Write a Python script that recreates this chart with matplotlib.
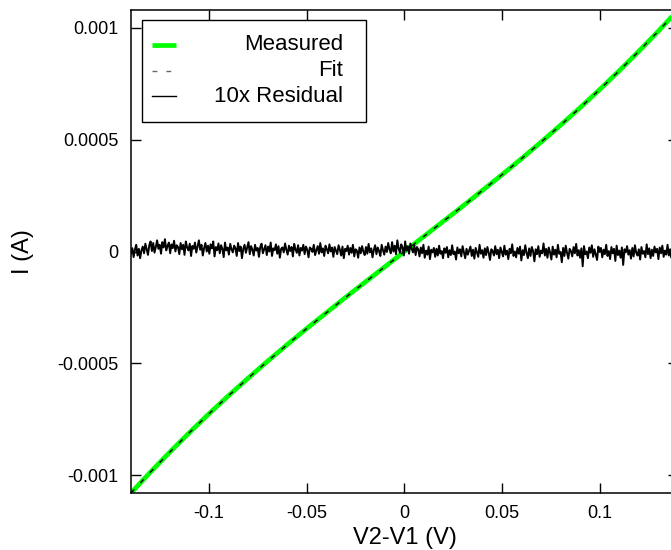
import matplotlib
matplotlib.use('Agg')
import matplotlib.pyplot as plt
from matplotlib.lines import Line2D
from matplotlib.patches import Rectangle
from matplotlib.transforms import Affine2D
import numpy as np

plt.rcParams['font.family'] = ['Liberation Sans', 'DejaVu Sans']
plt.rcParams['axes.unicode_minus'] = False

# measured I-V sweep (V, A)
volts = [-0.14, -0.13, -0.12, -0.11, -0.10, -0.09, -0.08, -0.07, -0.06, -0.05,
         -0.04, -0.03, -0.02, -0.01, 0.0, 0.01, 0.02, 0.03, 0.04, 0.05,
         0.06, 0.07, 0.08, 0.09, 0.10, 0.11, 0.12, 0.13, 0.14]
measured = [-0.001080, -0.000986, -0.000896, -0.000809, -0.000725, -0.000644,
            -0.000566, -0.000490, -0.000416, -0.000344, -0.000274, -0.000204,
            -0.000136, -0.000068, 0.0, 0.000068, 0.000136, 0.000204, 0.000274,
            0.000344, 0.000416, 0.000490, 0.000566, 0.000644, 0.000725,
            0.000809, 0.000896, 0.000986, 0.001080]
fit = [-0.001080, -0.000986, -0.000896, -0.000809, -0.000725, -0.000644,
       -0.000566, -0.000490, -0.000416, -0.000344, -0.000274, -0.000204,
       -0.000136, -0.000068, 0.0, 0.000068, 0.000136, 0.000204, 0.000274,
       0.000344, 0.000416, 0.000490, 0.000566, 0.000644, 0.000725,
       0.000809, 0.000896, 0.000986, 0.001080]

# 10x residual in micro-amps, sampled evenly across the sweep
resid_ua = [
    -10, 15, -25, 8, 30, -18, 12, -30, 5, 22, -8, 35, 10, -15, 28, 45, 2, 38, -5, 20,
    50, 12, 30, -10, 42, 18, 55, 5, 25, 40, -8, 32, 15, 48, 0, 28, 20, -12, 38, 10,
    30, -15, 45, 18, 5, 35, -20, 25, 12, 40, -5, 22, 50, 8, 30, -18, 15, 38, 0, 26,
    -10, 32, 14, 45, -22, 20, 6, 36, -8, 28, 12, -25, 40, 5, 18, -14, 34, 10, -4, 26,
    15, -20, 38, 2, 22, -30, 12, 30, -6, 18, 42, -12, 24, 8, -18, 30, 4, 16, -24, 20,
    35, -8, 10, 28, -16, 22, 0, 40, -20, 14, 6, 32, -10, 24, -28, 12, 18, -4, 36, 8,
    -14, 26, 2, 20, -22, 34, 10, -6, 28, -18, 16, 4, 30, -12, 22, 8, -26, 18, 12, -2,
    30, -16, 6, 24, -10, 38, -4, 14, -20, 26, 10, -8, 32, 0, 18, -24, 20, 4, -12, 28,
    8, -18, 22, -30, 12, 2, 26, -14, 16, -6, 30, -22, 10, 4, -28, 18, -8, 24, 0, -16,
    20, -10, 34, -4, 14, -26, 8, 28, -12, 18, 2, -20, 30, 6, -14, 22, -2, 38, 10, -8,
    42, 0, 26, -12, 50, 14, -6, 32, 18, -18, 45, 4, 24, -10, 36, 12, -4, 28, -16, 20,
    10, -22, 18, -8, 30, -28, 4, -14, 22, -34, 8, -4, 16, -24, 12, -18, 26, -10, 2, -30,
    14, -6, 20, -26, 6, -16, 28, -12, 0, -36, 18, -8, 10, -22, 24, -2, -30, 12, -14, 4,
    22, -20, 8, -32, 16, -4, -24, 30, -10, 6, -28, 14, -16, 20, -6, -38, 10, 2, -18, 24,
    -12, 8, -30, 18, -2, -22, 26, -14, 4, -34, 12, -8, 32, -20, 0, -26, 16, -10, 22, -40,
    6, -16, 28, -6, -30, 14, -20, 20, 2, -44, 10, -12, 24, -24, 4, -8, 36, -18, 12, -28,
    18, -4, -36, 22, -14, 8, -26, 30, -10, -2, -48, 16, -20, 26, -6, -32, 12, 2, -22, 20,
    -8, 34, -18, 6, -28, 14, -66, 24, -12, 0, -30, 18, -6, 28, -24, 10, -14, -38, 22, -2,
    16, -26, 8, -12, 30, -20, 2, -34, 20, -8, 12, -42, 26, -16, 4, -28, 18, -60, 10, -4,
    24, -14, 6, -32, 16, -22, 28, -6, -18, 10, -36, 20, -10, 2, -26, 32, -12, 14, -30, 8,
    -20, 22, -4, 12, -34, 18, -8, 26, -24, 4, -14, 30, -18, 10, -28, 16, -2, 36, -12, 20,
]
resid_v = np.linspace(volts[0], volts[-1], len(resid_ua))
resid = np.array(resid_ua) * 1e-6

xticks = [-0.1, -0.05, 0, 0.05, 0.1]
yticks = [-0.001, -0.0005, 0, 0.0005, 0.001]
labels = ['Measured', 'Fit', '10x Residual']

fig = plt.figure(figsize=(6.71, 5.5), dpi=100)
ax = fig.add_axes([131 / 671, 57 / 550, 547 / 671, 483 / 550])

styles = [dict(color='#00ff00', lw=3.4, solid_capstyle='butt'),
          dict(color='black', lw=1.0, dashes=(3.5, 6.5)),
          dict(color='black', lw=1.4)]

ax.plot(volts, measured, **styles[0])
ax.plot(volts, fit, **styles[1])
ax.plot(resid_v, resid, **styles[2])

ax.set_xlim(-0.14, 0.14)
ax.set_ylim(-0.00108, 0.00108)
ax.set_xticks(xticks)
ax.set_yticks(yticks)
ax.set_xticklabels(['%g' % t for t in xticks])
ax.set_yticklabels(['%g' % t for t in yticks])
ax.tick_params(direction='in', length=7.5, width=1.0, top=True, right=True,
               labelsize=13, pad=9)
for s in ax.spines.values():
    s.set_linewidth(1.1)

ax.set_xlabel('V2-V1 (V)', fontsize=17)
ax.xaxis.set_label_coords(0.5, -0.07)
ax.set_ylabel('I (A)', fontsize=17)
ax.yaxis.set_label_coords(-0.178, 0.5)

# legend drawn by hand so the labels can be right-aligned (pixel coords, top-left origin)
pix = Affine2D().scale(1 / 671, -1 / 550).translate(0, 1) + fig.transFigure
fig.add_artist(Rectangle((142, 20), 224, 102, transform=pix, fill=True,
                         facecolor='white', edgecolor='black', lw=1.0))
leg_styles = [styles[0], dict(color='#666666', lw=1.0, dashes=(3.5, 6.5)), dict(color='black', lw=1.0)]
for i, (lab, st) in enumerate(zip(labels, leg_styles)):
    y = 45 + i * 25.5
    fig.add_artist(Line2D([152, 176], [y, y], transform=pix, **st))
    fig.text(343, y, lab, transform=pix, ha='right', va='center', fontsize=16)

fig.savefig('out.png', dpi=100)
